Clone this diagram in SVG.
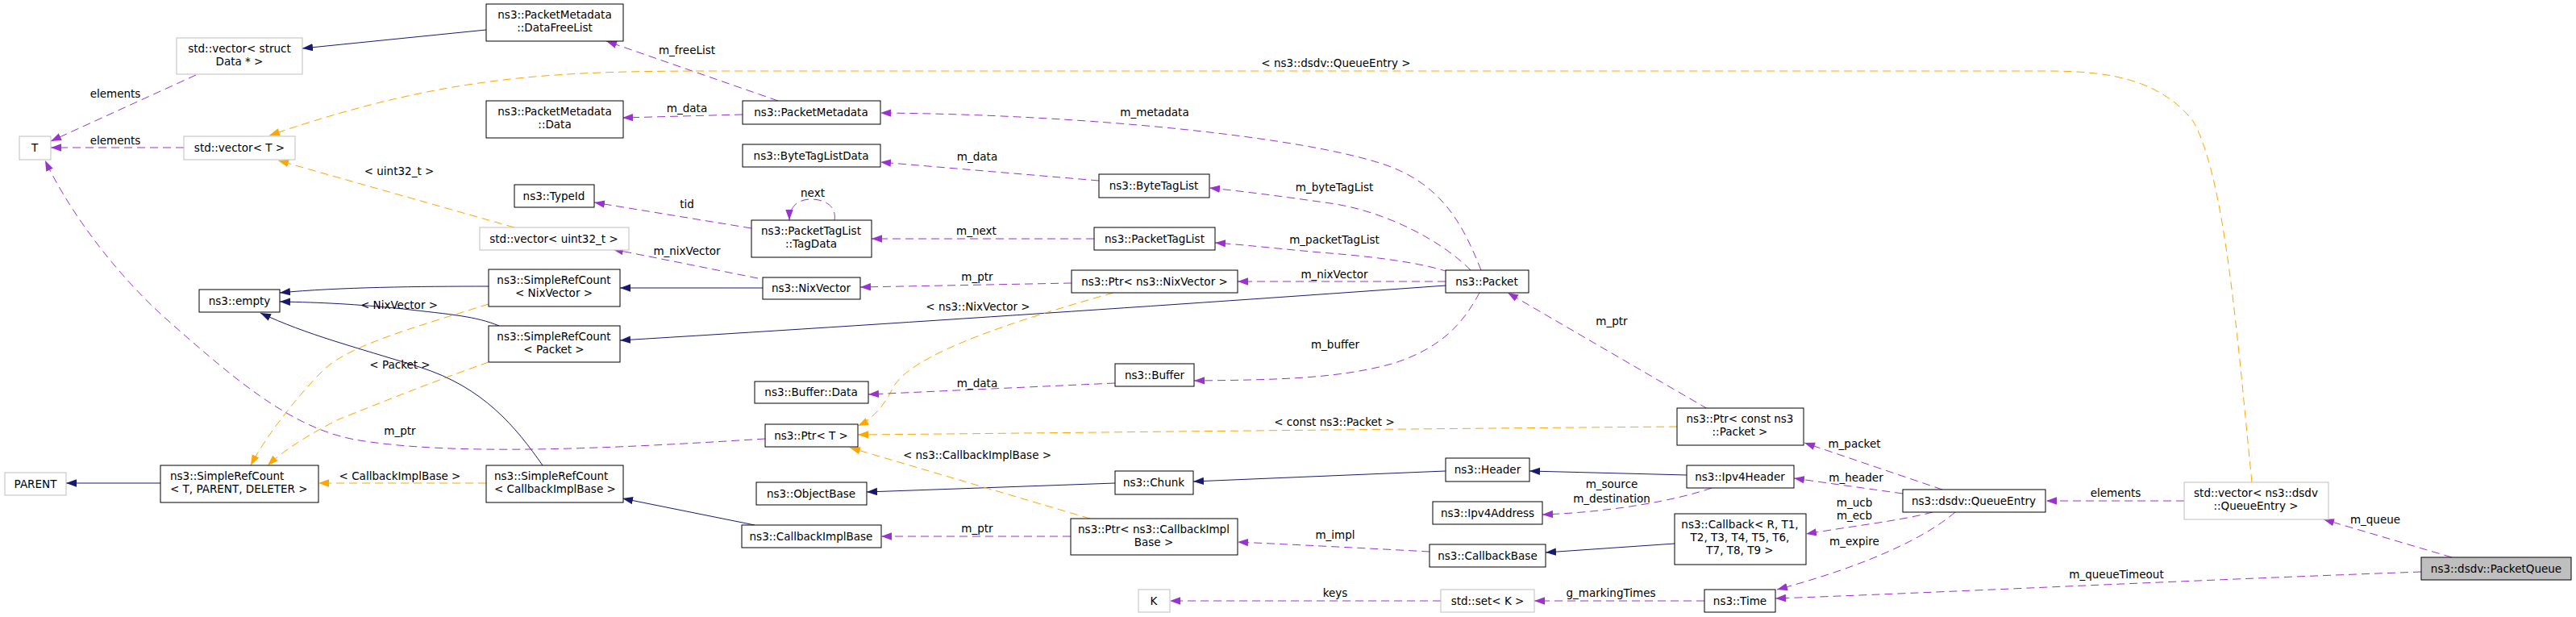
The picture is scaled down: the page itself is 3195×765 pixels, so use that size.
<svg xmlns="http://www.w3.org/2000/svg" width="3195" height="765" viewBox="0 0 3195 765">
<style>
text{font-family:"DejaVu Sans","Liberation Sans",sans-serif;font-size:13.5px;fill:#000}
.nt{text-anchor:middle}
.n{fill:#fff;stroke:#000;stroke-width:1}
.g{fill:#fff;stroke:#bfbfbf;stroke-width:1}
.sel{fill:#bfbfbf;stroke:#000;stroke-width:1}
.ep{fill:none;stroke:#9a32cd;stroke-width:1;stroke-dasharray:10,6;marker-end:url(#ap)}
.en{fill:none;stroke:#191970;stroke-width:1;marker-end:url(#an)}
.eo{fill:none;stroke:#ffa500;stroke-width:1;stroke-dasharray:10,6;marker-end:url(#ao)}
.l{text-anchor:middle}
</style>
<defs>
<marker id="ap" markerUnits="userSpaceOnUse" markerWidth="14" markerHeight="10" refX="13" refY="4.7" orient="auto"><path d="M0,0L13,4.7L0,9.4z" fill="#9a32cd"/></marker>
<marker id="an" markerUnits="userSpaceOnUse" markerWidth="14" markerHeight="10" refX="13" refY="4.7" orient="auto"><path d="M0,0L13,4.7L0,9.4z" fill="#191970"/></marker>
<marker id="ao" markerUnits="userSpaceOnUse" markerWidth="14" markerHeight="10" refX="13" refY="4.7" orient="auto"><path d="M0,0L13,4.7L0,9.4z" fill="#ffa500"/></marker>
</defs>
<rect width="3195" height="765" fill="#fff"/>
<g id="edges">
<path class="en" d="M603,37 L375,60"/>
<path class="en" d="M606,355 C520,355 420,356 347,363"/>
<path class="en" d="M619,404 C590,392 560,390 500,383 C440,377 400,375 347,374"/>
<path class="en" d="M673,577 C640,530 600,480 520,455 C440,430 380,415 323,388"/>
<path class="en" d="M199,599 L82,599"/>
<path class="en" d="M946,357 L769,357"/>
<path class="en" d="M1793,354 C1500,375 1100,402 769,422"/>
<path class="en" d="M936,651 L772,618"/>
<path class="en" d="M1383,599 L1075,610"/>
<path class="en" d="M1793,584 L1480,597"/>
<path class="en" d="M2092,589 L1897,584"/>
<path class="en" d="M2077,674 L1917,685"/>
<path class="eo" d="M2793,598 C2775,420 2760,220 2720,150 C2680,100 2620,88 2540,88 L900,88 C700,88 560,90 334,168"/>
<text class="l" x="1657" y="83">&lt; ns3::dsdv::QueueEntry &gt;</text>
<path class="eo" d="M638,282 L345,199"/>
<text class="l" x="495" y="217">&lt; uint32_t &gt;</text>
<path class="eo" d="M606,377 C500,410 430,430 400,460 C370,490 330,540 311,577"/>
<text class="l" x="495" y="383">&lt; NixVector &gt;</text>
<path class="eo" d="M606,449 C540,472 470,500 420,520 C380,540 350,560 332,577"/>
<text class="l" x="496" y="457">&lt; Packet &gt;</text>
<path class="eo" d="M603,599 L395,599"/>
<text class="l" x="496" y="595">&lt; CallbackImplBase &gt;</text>
<path class="eo" d="M1381,363 C1250,400 1130,440 1108,480 C1098,500 1085,518 1064,528"/>
<text class="l" x="1213" y="385">&lt; ns3::NixVector &gt;</text>
<path class="eo" d="M2080,529 C1700,532 1300,537 1064,539"/>
<text class="l" x="1655" y="528">&lt; const ns3::Packet &gt;</text>
<path class="eo" d="M1352,643 L1054,555"/>
<text class="l" x="1212" y="569">&lt; ns3::CallbackImplBase &gt;</text>
<path class="ep" d="M243,93 L63,175"/>
<text class="l" x="143" y="121">elements</text>
<path class="ep" d="M228,183 L63,183"/>
<text class="l" x="143" y="179">elements</text>
<path class="ep" d="M949,544 C760,556 560,566 440,545 C360,530 290,470 200,390 C130,325 80,250 56,199"/>
<text class="l" x="496" y="539">m_ptr</text>
<path class="ep" d="M965,125 L752,51"/>
<text class="l" x="852" y="67">m_freeList</text>
<path class="ep" d="M921,142 L772,146"/>
<text class="l" x="852" y="139">m_data</text>
<path class="ep" d="M1837,335 C1815,280 1790,230 1720,205 C1620,170 1350,142 1092,140"/>
<text class="l" x="1432" y="144">m_metadata</text>
<path class="ep" d="M1363,224 L1092,201"/>
<text class="l" x="1212" y="199">m_data</text>
<path class="ep" d="M1824,335 C1790,300 1720,262 1650,252 C1600,245 1550,238 1500,233"/>
<text class="l" x="1655" y="237">m_byteTagList</text>
<path class="ep" d="M932,283 L737,251"/>
<text class="l" x="852" y="258">tid</text>
<path class="ep" d="M1035,273 C1038,255 1022,247 1006,247 C990,247 979,256 979,273"/>
<text class="l" x="1008" y="244">next</text>
<path class="ep" d="M1357,296 L1081,296"/>
<text class="l" x="1211" y="291">m_next</text>
<path class="ep" d="M1796,337 C1760,325 1700,318 1650,314 C1600,310 1550,304 1507,301"/>
<text class="l" x="1655" y="302">m_packetTagList</text>
<path class="ep" d="M940,345 L760,309"/>
<text class="l" x="852" y="316">m_nixVector</text>
<path class="ep" d="M1329,351 L1067,356"/>
<text class="l" x="1212" y="348">m_ptr</text>
<path class="ep" d="M1793,349 L1535,349"/>
<text class="l" x="1655" y="345">m_nixVector</text>
<path class="ep" d="M1383,475 L1077,489"/>
<text class="l" x="1212" y="480">m_data</text>
<path class="ep" d="M1835,363 C1815,400 1790,430 1730,450 C1660,470 1580,471 1481,472"/>
<text class="l" x="1656" y="432">m_buffer</text>
<path class="ep" d="M2118,507 L1870,363"/>
<text class="l" x="1999" y="403">m_ptr</text>
<path class="ep" d="M1328,665 L1093,665"/>
<text class="l" x="1212" y="660">m_ptr</text>
<path class="ep" d="M1773,684 C1700,680 1600,675 1535,672"/>
<text class="l" x="1656" y="668">m_impl</text>
<path class="ep" d="M2123,605 C2080,620 2000,635 1913,638"/>
<text class="l" x="1999" y="605">m_source</text>
<text class="l" x="1999" y="623">m_destination</text>
<path class="ep" d="M1787,745 L1451,745"/>
<text class="l" x="1656" y="740">keys</text>
<path class="ep" d="M2114,745 L1903,745"/>
<text class="l" x="1998" y="740">g_markingTimes</text>
<path class="ep" d="M2409,607 L2238,549"/>
<text class="l" x="2300" y="555">m_packet</text>
<path class="ep" d="M2360,612 L2225,593"/>
<text class="l" x="2302" y="597">m_header</text>
<path class="ep" d="M2397,635 C2360,645 2300,652 2240,662"/>
<text class="l" x="2300" y="628">m_ucb</text>
<text class="l" x="2300" y="644">m_ecb</text>
<path class="ep" d="M2425,635 C2390,665 2320,700 2204,731"/>
<text class="l" x="2300" y="676">m_expire</text>
<path class="ep" d="M2709,621 L2538,621"/>
<text class="l" x="2624" y="616">elements</text>
<path class="ep" d="M3041,691 L2882,644"/>
<text class="l" x="2946" y="649">m_queue</text>
<path class="ep" d="M3003,709 C2700,720 2400,735 2202,742"/>
<text class="l" x="2625" y="717">m_queueTimeout</text>
</g>
<g id="PacketQueue"><rect class="sel" x="3003" y="691" width="186" height="28"/><text class="nt" x="3096" y="710">ns3::dsdv::PacketQueue</text></g>
<g id="vecQueueEntry"><rect class="g" x="2709" y="598" width="179" height="46"/><text class="nt" x="2798" y="616">std::vector&lt; ns3::dsdv</text><text class="nt" x="2798" y="632">::QueueEntry &gt;</text></g>
<g id="QueueEntry"><rect class="n" x="2360" y="607" width="177" height="28"/><text class="nt" x="2448" y="626">ns3::dsdv::QueueEntry</text></g>
<g id="PtrConstPacket"><rect class="n" x="2080" y="506" width="157" height="46"/><text class="nt" x="2158" y="524">ns3::Ptr&lt; const ns3</text><text class="nt" x="2158" y="540">::Packet &gt;</text></g>
<g id="Ipv4Header"><rect class="n" x="2092" y="577" width="133" height="28"/><text class="nt" x="2158" y="596">ns3::Ipv4Header</text></g>
<g id="Callback"><rect class="n" x="2077" y="637" width="163" height="63"/><text class="nt" x="2158" y="655">ns3::Callback&lt; R, T1,</text><text class="nt" x="2158" y="671">T2, T3, T4, T5, T6,</text><text class="nt" x="2158" y="687">T7, T8, T9 &gt;</text></g>
<g id="Time"><rect class="n" x="2114" y="731" width="88" height="28"/><text class="nt" x="2158" y="750">ns3::Time</text></g>
<g id="Packet"><rect class="n" x="1793" y="335" width="103" height="28"/><text class="nt" x="1844" y="354">ns3::Packet</text></g>
<g id="Header"><rect class="n" x="1793" y="568" width="104" height="29"/><text class="nt" x="1845" y="587">ns3::Header</text></g>
<g id="Ipv4Address"><rect class="n" x="1777" y="622" width="136" height="28"/><text class="nt" x="1845" y="641">ns3::Ipv4Address</text></g>
<g id="CallbackBase"><rect class="n" x="1773" y="675" width="144" height="28"/><text class="nt" x="1845" y="694">ns3::CallbackBase</text></g>
<g id="setK"><rect class="g" x="1787" y="731" width="116" height="28"/><text class="nt" x="1845" y="750">std::set&lt; K &gt;</text></g>
<g id="ByteTagList"><rect class="n" x="1363" y="216" width="137" height="29"/><text class="nt" x="1431" y="235">ns3::ByteTagList</text></g>
<g id="PacketTagList"><rect class="n" x="1357" y="282" width="150" height="28"/><text class="nt" x="1432" y="301">ns3::PacketTagList</text></g>
<g id="PtrNixVector"><rect class="n" x="1329" y="335" width="206" height="28"/><text class="nt" x="1432" y="354">ns3::Ptr&lt; ns3::NixVector &gt;</text></g>
<g id="Buffer"><rect class="n" x="1383" y="451" width="98" height="28"/><text class="nt" x="1432" y="470">ns3::Buffer</text></g>
<g id="Chunk"><rect class="n" x="1383" y="584" width="97" height="29"/><text class="nt" x="1431" y="603">ns3::Chunk</text></g>
<g id="PtrCallbackImplBase"><rect class="n" x="1328" y="643" width="207" height="45"/><text class="nt" x="1431" y="661">ns3::Ptr&lt; ns3::CallbackImpl</text><text class="nt" x="1431" y="677">Base &gt;</text></g>
<g id="K"><rect class="g" x="1412" y="731" width="39" height="28"/><text class="nt" x="1431" y="750">K</text></g>
<g id="PacketMetadata"><rect class="n" x="921" y="125" width="171" height="29"/><text class="nt" x="1006" y="144">ns3::PacketMetadata</text></g>
<g id="ByteTagListData"><rect class="n" x="921" y="179" width="171" height="28"/><text class="nt" x="1006" y="198">ns3::ByteTagListData</text></g>
<g id="TagData"><rect class="n" x="932" y="273" width="149" height="46"/><text class="nt" x="1006" y="291">ns3::PacketTagList</text><text class="nt" x="1006" y="307">::TagData</text></g>
<g id="NixVector"><rect class="n" x="946" y="344" width="121" height="27"/><text class="nt" x="1006" y="362">ns3::NixVector</text></g>
<g id="BufferData"><rect class="n" x="936" y="473" width="141" height="27"/><text class="nt" x="1006" y="491">ns3::Buffer::Data</text></g>
<g id="PtrT"><rect class="n" x="949" y="526" width="115" height="28"/><text class="nt" x="1006" y="545">ns3::Ptr&lt; T &gt;</text></g>
<g id="ObjectBase"><rect class="n" x="938" y="598" width="137" height="28"/><text class="nt" x="1006" y="617">ns3::ObjectBase</text></g>
<g id="CallbackImplBase"><rect class="n" x="920" y="651" width="173" height="28"/><text class="nt" x="1006" y="670">ns3::CallbackImplBase</text></g>
<g id="DataFreeList"><rect class="n" x="603" y="5" width="170" height="46"/><text class="nt" x="688" y="23">ns3::PacketMetadata</text><text class="nt" x="688" y="39">::DataFreeList</text></g>
<g id="PacketMetadataData"><rect class="n" x="603" y="125" width="170" height="46"/><text class="nt" x="688" y="143">ns3::PacketMetadata</text><text class="nt" x="688" y="159">::Data</text></g>
<g id="TypeId"><rect class="n" x="638" y="229" width="99" height="28"/><text class="nt" x="687" y="248">ns3::TypeId</text></g>
<g id="vecUint32"><rect class="g" x="595" y="282" width="185" height="28"/><text class="nt" x="687" y="301">std::vector&lt; uint32_t &gt;</text></g>
<g id="SRCNixVector"><rect class="n" x="606" y="334" width="163" height="46"/><text class="nt" x="687" y="352">ns3::SimpleRefCount</text><text class="nt" x="687" y="368">&lt; NixVector &gt;</text></g>
<g id="SRCPacket"><rect class="n" x="606" y="404" width="163" height="45"/><text class="nt" x="687" y="422">ns3::SimpleRefCount</text><text class="nt" x="687" y="438">&lt; Packet &gt;</text></g>
<g id="SRCCallbackImplBase"><rect class="n" x="603" y="577" width="170" height="46"/><text x="613" y="595">ns3::SimpleRefCount</text><text x="613" y="611">&lt; CallbackImplBase &gt;</text></g>
<g id="vecData"><rect class="g" x="219" y="47" width="156" height="45"/><text class="nt" x="297" y="65">std::vector&lt; struct</text><text class="nt" x="297" y="81">Data * &gt;</text></g>
<g id="T"><rect class="g" x="24" y="169" width="39" height="29"/><text class="nt" x="43" y="188">T</text></g>
<g id="vecT"><rect class="g" x="228" y="169" width="138" height="29"/><text class="nt" x="297" y="188">std::vector&lt; T &gt;</text></g>
<g id="empty"><rect class="n" x="247" y="359" width="100" height="28"/><text class="nt" x="297" y="378">ns3::empty</text></g>
<g id="PARENT"><rect class="g" x="6" y="586" width="76" height="28"/><text class="nt" x="44" y="605">PARENT</text></g>
<g id="SRCTPD"><rect class="n" x="199" y="577" width="196" height="46"/><text x="211" y="595">ns3::SimpleRefCount</text><text x="211" y="611">&lt; T, PARENT, DELETER &gt;</text></g>
</svg>
